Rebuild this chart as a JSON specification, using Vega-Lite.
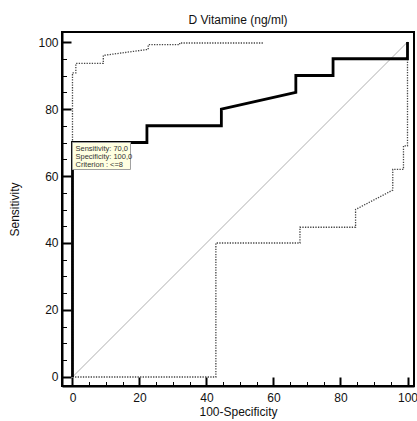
{
  "$schema": "https://vega.github.io/schema/vega-lite/v6.json",
  "width": 352,
  "height": 354,
  "autosize": "none",
  "padding": {"left": 62, "top": 32, "right": 3, "bottom": 35},
  "background": "white",
  "config": {
    "view": {"stroke": "black", "strokeWidth": 2},
    "font": "Liberation Sans"
  },
  "title": {"text": "D Vitamine (ng/ml)", "fontSize": 12, "fontWeight": "normal", "color": "#111", "font": "Liberation Sans", "offset": 5},
  "datasets": {
    "roc": [
      {"i": 0, "x": 0, "y": 0},
      {"i": 1, "x": 0, "y": 70},
      {"i": 2, "x": 22.22, "y": 70},
      {"i": 3, "x": 22.22, "y": 75},
      {"i": 4, "x": 44.44, "y": 75},
      {"i": 5, "x": 44.44, "y": 80},
      {"i": 6, "x": 66.67, "y": 85},
      {"i": 7, "x": 66.67, "y": 90},
      {"i": 8, "x": 77.78, "y": 90},
      {"i": 9, "x": 77.78, "y": 95},
      {"i": 10, "x": 100, "y": 95},
      {"i": 11, "x": 100, "y": 100}
    ],
    "upper": [
      {"i": 0, "x": 0, "y": 0},
      {"i": 1, "x": 0, "y": 90.8},
      {"i": 2, "x": 1, "y": 90.8},
      {"i": 3, "x": 1, "y": 93.6},
      {"i": 4, "x": 9.2, "y": 93.6},
      {"i": 5, "x": 9.2, "y": 96},
      {"i": 6, "x": 22.6, "y": 97.8},
      {"i": 7, "x": 22.6, "y": 99.2},
      {"i": 8, "x": 32, "y": 99.2},
      {"i": 9, "x": 32, "y": 99.7},
      {"i": 10, "x": 57, "y": 99.7}
    ],
    "lower": [
      {"i": 0, "x": 0, "y": 0},
      {"i": 1, "x": 42.8, "y": 0},
      {"i": 2, "x": 42.8, "y": 40},
      {"i": 3, "x": 67.9, "y": 40},
      {"i": 4, "x": 67.9, "y": 44.7},
      {"i": 5, "x": 84.5, "y": 44.7},
      {"i": 6, "x": 84.5, "y": 50},
      {"i": 7, "x": 95.6, "y": 55.8},
      {"i": 8, "x": 95.6, "y": 62},
      {"i": 9, "x": 98.8, "y": 62},
      {"i": 10, "x": 98.8, "y": 69},
      {"i": 11, "x": 100, "y": 69},
      {"i": 12, "x": 100, "y": 100}
    ],
    "diag": [
      {"i": 0, "x": 0, "y": 0},
      {"i": 1, "x": 100, "y": 100}
    ],
    "criterion": [
      {"x": 0, "y": 70, "label": "Sensitivity: 70,0\nSpecificity: 100,0\nCriterion : <=8"}
    ]
  },
  "layer": [
    {
      "data": {"name": "diag"},
      "mark": {"type": "line", "color": "#b0b0b0", "strokeWidth": 1},
      "encoding": {
        "x": {"field": "x", "type": "quantitative", "scale": {"domain": [-3.13, 101.94], "nice": false, "zero": false},
          "axis": {"orient": "bottom", "values": [5, 10, 15, 25, 30, 35, 45, 50, 55, 65, 70, 75, 85, 90, 95], "tickSize": -4.5, "tickWidth": 1, "tickColor": "black", "labels": false, "domain": false, "grid": false, "title": null}},
        "y": {"field": "y", "type": "quantitative", "scale": {"domain": [-2.69, 102.99], "nice": false, "zero": false},
          "axis": {"orient": "left", "values": [5, 10, 15, 25, 30, 35, 45, 50, 55, 65, 70, 75, 85, 90, 95], "tickSize": -4.5, "tickWidth": 1, "tickColor": "black", "labels": false, "domain": false, "grid": false, "title": null}},
        "order": {"field": "i"}
      }
    },
    {
      "data": {"name": "lower"},
      "mark": {"type": "line", "color": "#444444", "strokeWidth": 1.3, "strokeDash": [1.3, 1.3]},
      "encoding": {
        "x": {"field": "x", "type": "quantitative", "axis": null},
        "y": {"field": "y", "type": "quantitative", "axis": null},
        "order": {"field": "i"}
      }
    },
    {
      "data": {"name": "upper"},
      "mark": {"type": "line", "color": "#444444", "strokeWidth": 1.3, "strokeDash": [1.3, 1.3]},
      "encoding": {
        "x": {"field": "x", "type": "quantitative", "axis": null},
        "y": {"field": "y", "type": "quantitative", "axis": null},
        "order": {"field": "i"}
      }
    },
    {
      "data": {"name": "roc"},
      "mark": {"type": "line", "color": "black", "strokeWidth": 2.8, "strokeJoin": "miter"},
      "encoding": {
        "x": {"field": "x", "type": "quantitative",
          "axis": {"orient": "bottom", "values": [0, 20, 40, 60, 80, 100], "tickSize": -9, "tickWidth": 2, "tickColor": "black", "domain": true, "domainColor": "black", "domainWidth": 2, "grid": false, "labelFontSize": 12, "labelColor": "#111", "labelFont": "Liberation Sans", "labelPadding": 15, "title": "100-Specificity", "titleFontSize": 12, "titleFontWeight": "normal", "titleColor": "#111", "titleFont": "Liberation Sans", "titlePadding": 3}},
        "y": {"field": "y", "type": "quantitative",
          "axis": {"orient": "left", "values": [0, 20, 40, 60, 80, 100], "tickSize": -9, "tickWidth": 2, "tickColor": "black", "domain": true, "domainColor": "black", "domainWidth": 2, "grid": false, "labelFontSize": 12, "labelColor": "#111", "labelFont": "Liberation Sans", "labelPadding": 13, "title": "Sensitivity", "titleFontSize": 12, "titleFontWeight": "normal", "titleColor": "#111", "titleFont": "Liberation Sans", "titlePadding": 16}},
        "order": {"field": "i"}
      }
    },
    {
      "data": {"name": "criterion"},
      "mark": {"type": "rect", "width": 58, "height": 27, "xOffset": 29, "yOffset": 13.5, "fill": "#ffffe1", "stroke": "#a0a0a0", "strokeWidth": 1},
      "encoding": {
        "x": {"field": "x", "type": "quantitative", "axis": null},
        "y": {"field": "y", "type": "quantitative", "axis": null}
      }
    },
    {
      "data": {"name": "criterion"},
      "mark": {"type": "text", "align": "left", "baseline": "top", "dx": 3, "dy": 2, "fontSize": 7.5, "lineHeight": 8.4, "lineBreak": "\n", "color": "#333", "font": "Liberation Sans"},
      "encoding": {
        "x": {"field": "x", "type": "quantitative", "axis": null},
        "y": {"field": "y", "type": "quantitative", "axis": null},
        "text": {"field": "label"}
      }
    }
  ],
  "resolve": {"axis": {"x": "independent", "y": "independent"}}
}
